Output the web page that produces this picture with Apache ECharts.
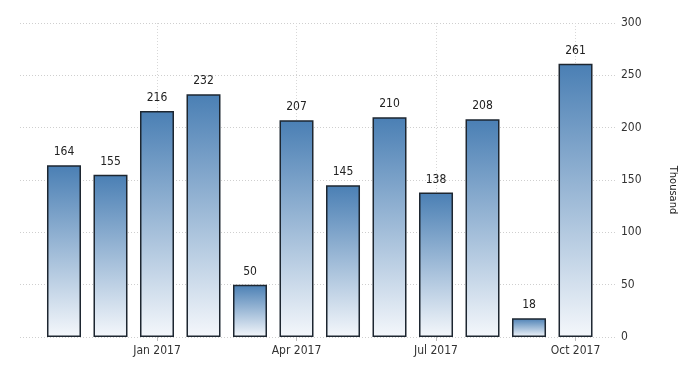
<!DOCTYPE html>
<html>
<head>
<meta charset="utf-8">
<script src="https://cdn.jsdelivr.net/npm/echarts@6/dist/echarts.min.js"></script>
<style>html,body{margin:0;padding:0;background:#fff;}#c{width:700px;height:375px;}</style>
</head>
<body>
<div id="c"></div>
<script>
const months = ['Nov 2016','Dec 2016','Jan 2017','Feb 2017','Mar 2017','Apr 2017','May 2017','Jun 2017','Jul 2017','Aug 2017','Sep 2017','Oct 2017'];
const values = [164, 155, 216, 232, 50, 207, 145, 210, 138, 208, 18, 261];
const xTickIndexes = [2, 5, 8, 11];
const yTicks = [0, 50, 100, 150, 200, 250, 300];

const FONT = '"Liberation Sans Narrow", "DejaVu Sans Condensed", "Liberation Sans", sans-serif';
const chart = echarts.init(document.getElementById('c'), null, {renderer: 'canvas'});
chart.setOption({
  animation: false,
  backgroundColor: '#fff',
  grid: {left: 20, right: 83, top: 23, bottom: 38, containLabel: false},
  xAxis: {
    type: 'value',
    min: -0.946,
    max: 11.892,
    axisLine: {show: false},
    axisTick: {show: true, customValues: xTickIndexes, length: 4, lineStyle: {color: '#bbb'}},
    axisLabel: {
      customValues: xTickIndexes,
      formatter: v => { const m = months[Math.round(v)]; return m ? m.replace('2016','2016') : ''; },
      color: '#333', fontSize: 12, fontFamily: FONT, margin: 8
    },
    splitLine: {show: true, lineStyle: {color: '#d8d8d8', type: [1, 2], width: 1}}
  },
  yAxis: {
    type: 'value',
    position: 'right',
    min: yTicks[0],
    max: yTicks[yTicks.length - 1],
    interval: 50,
    name: 'Thousand',
    nameLocation: 'middle',
    nameRotate: -90,
    nameGap: 50,
    nameTextStyle: {color: '#222', fontSize: 11, fontFamily: FONT, padding: [0, 0, 0, 20]},
    axisLine: {show: false},
    axisTick: {show: false},
    axisLabel: {color: '#333', fontSize: 12, fontFamily: FONT, margin: 4},
    splitLine: {show: true, lineStyle: {color: '#cfcfcf', type: [1, 2], width: 1}}
  },
  series: [{
    type: 'bar',
    data: values.map((v, i) => [i, v]),
    barWidth: 34,
    itemStyle: {
      color: new echarts.graphic.LinearGradient(0, 0, 0, 1, [
        {offset: 0, color: '#4a7fb4'},
        {offset: 1, color: '#f4f7fb'}
      ]),
      borderColor: '#1d2630',
      borderWidth: 1.5
    },
    label: {
      show: true,
      position: 'top',
      distance: 7,
      color: '#222',
      fontSize: 12,
      fontFamily: FONT,
      formatter: p => p.value[1]
    }
  }]
});
</script>
</body>
</html>
